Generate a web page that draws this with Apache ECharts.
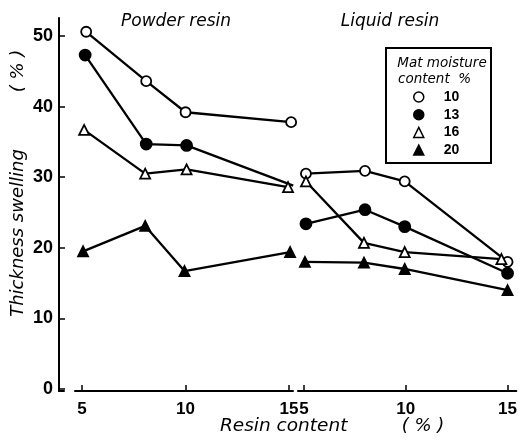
<!DOCTYPE html>
<html>
<head>
<meta charset="utf-8">
<script src="https://cdn.jsdelivr.net/npm/echarts@6/dist/echarts.min.js"></script>
<style>
  html, body { margin: 0; padding: 0; background: #fff; }
  #chart { width: 520px; height: 443px; }
</style>
</head>
<body>
<div id="chart"></div>
<script>
// moisture levels (legend)
var moistures = ["10", "13", "16", "20"];
var tickX = [5, 10, 15];
var tickY = [0, 10, 20, 30, 40, 50];

// powder resin: resin content (%) and thickness swelling (%)
var powderX10 = [5.2, 8.1, 10.0, 15.1];
var powder10 = [50.6, 43.6, 39.2, 37.8];
var powderX13 = [5.15, 8.1, 10.05, 15.2];
var powder13 = [47.3, 34.7, 34.5, 28.8];
var powderX16 = [5.1, 8.05, 10.05, 14.95];
var powder16 = [36.7, 30.5, 31.1, 28.6];
var powderX20 = [5.05, 8.05, 9.95, 15.05];
var powder20 = [19.5, 23.1, 16.7, 19.4];

// liquid resin
var liquidX10 = [5.1, 8.0, 9.95, 15.0];
var liquid10 = [30.5, 30.9, 29.4, 18.0];
var liquidX13 = [5.1, 8.0, 9.95, 15.0];
var liquid13 = [23.4, 25.4, 23.0, 16.4];
var liquidX16 = [5.1, 7.95, 9.95, 14.7];
var liquid16 = [29.4, 20.7, 19.4, 18.4];
var liquidX20 = [5.05, 7.95, 9.95, 15.0];
var liquid20 = [18.0, 17.9, 17.0, 14.0];

function pairs(xs, ys) {
  return xs.map(function (x, i) { return [x, ys[i]]; });
}

var markers = {
  "10": { symbol: "circle", size: 10, color: "#fff" },
  "13": { symbol: "circle", size: 11, color: "#000" },
  "16": { symbol: "triangle", size: 10, color: "#fff" },
  "20": { symbol: "triangle", size: 10, color: "#000" }
};

function makeSeries(name, axisIdx, xs, ys) {
  var m = markers[name];
  return {
    name: name,
    type: "line",
    xAxisIndex: axisIdx,
    yAxisIndex: axisIdx,
    data: pairs(xs, ys),
    symbol: m.symbol,
    symbolSize: m.size,
    showAllSymbol: true,
    itemStyle: { color: m.color, borderColor: "#000", borderWidth: 1.8, opacity: 1 },
    lineStyle: { color: "#000", width: 2.3 },
    emphasis: { disabled: true },
    animation: false
  };
}

var numFont = '"Liberation Sans", sans-serif';
var italicFont = '"DejaVu Sans", sans-serif';
var yMin = -0.28, yMax = 52.55;

var chart = echarts.init(document.getElementById("chart"), null, { renderer: "canvas" });

var option = {
  backgroundColor: "#fff",
  animation: false,
  grid: [
    { left: 59, top: 18, width: 5, height: 373 },
    { left: 75, top: 18, width: 218, height: 373 },
    { left: 298, top: 18, width: 222, height: 373 }
  ],
  xAxis: [
    {
      gridIndex: 0, type: "value", min: 0, max: 1,
      axisLine: { show: true, onZero: false, lineStyle: { color: "#000", width: 2 } },
      axisTick: { show: false }, axisLabel: { show: false }, splitLine: { show: false }
    },
    {
      gridIndex: 1, type: "value", min: 4.66, max: 15.19,
      axisLine: { onZero: false, lineStyle: { color: "#000", width: 2 } },
      axisTick: { inside: true, length: 6, customValues: tickX, lineStyle: { color: "#000", width: 1.5 } },
      axisLabel: { customValues: tickX, margin: 10, color: "#000", fontFamily: numFont, fontWeight: "bold", fontSize: 17 },
      splitLine: { show: false }
    },
    {
      gridIndex: 2, type: "value", min: 4.71, max: 15.43,
      axisLine: { onZero: false, lineStyle: { color: "#000", width: 2 } },
      axisTick: { inside: true, length: 6, customValues: tickX, lineStyle: { color: "#000", width: 1.5 } },
      axisLabel: { customValues: tickX, margin: 10, color: "#000", fontFamily: numFont, fontWeight: "bold", fontSize: 17 },
      splitLine: { show: false }
    }
  ],
  yAxis: [
    {
      gridIndex: 0, type: "value", min: yMin, max: yMax,
      axisLine: { show: true, lineStyle: { color: "#000", width: 2 } },
      axisTick: { inside: true, length: 6, customValues: tickY, lineStyle: { color: "#000", width: 1.5 } },
      axisLabel: { customValues: tickY, margin: 6, color: "#000", fontFamily: numFont, fontWeight: "bold", fontSize: 18 },
      splitLine: { show: false }
    },
    { gridIndex: 1, type: "value", min: yMin, max: yMax, show: false },
    { gridIndex: 2, type: "value", min: yMin, max: yMax, show: false }
  ],
  legend: {
    orient: "vertical",
    left: 413,
    top: 90,
    itemWidth: 10,
    itemHeight: 10,
    itemGap: 3.7,
    padding: 0,
    selectedMode: false,
    z: 10,
    textStyle: { color: "#000", fontFamily: numFont, fontWeight: "bold", fontSize: 14, padding: [0, 0, 0, 15] },
    data: moistures.map(function (name) {
      var m = markers[name];
      return {
        name: name,
        icon: m.symbol,
        itemStyle: { color: m.color, borderColor: "#000", borderWidth: 1.5 }
      };
    })
  },
  graphic: [
    { type: "rect", z: 5, shape: { x: 386, y: 48, width: 105, height: 115 },
      style: { fill: "#fff", stroke: "#000", lineWidth: 2 } },
    { type: "text", z: 6, x: 442, y: 63,
      style: { text: "Mat moisture", font: "italic 13.5px " + italicFont, fill: "#000", align: "center", verticalAlign: "middle", textAlign: "center", textVerticalAlign: "middle" } },
    { type: "text", z: 6, x: 398, y: 79,
      style: { text: "content  %", font: "italic 13.5px " + italicFont, fill: "#000", align: "left", verticalAlign: "middle", textAlign: "left", textVerticalAlign: "middle" } },
    { type: "text", x: 176, y: 22,
      style: { text: "Powder resin", font: "italic 17px " + italicFont, fill: "#000", align: "center", verticalAlign: "middle", textAlign: "center", textVerticalAlign: "middle" } },
    { type: "text", x: 390, y: 22,
      style: { text: "Liquid resin", font: "italic 17px " + italicFont, fill: "#000", align: "center", verticalAlign: "middle", textAlign: "center", textVerticalAlign: "middle" } },
    { type: "text", x: 220, y: 426,
      style: { text: "Resin content", font: "italic 18.5px " + italicFont, fill: "#000", align: "left", verticalAlign: "middle", textAlign: "left", textVerticalAlign: "middle" } },
    { type: "text", x: 423, y: 426,
      style: { text: "( % )", font: "italic 18px " + italicFont, fill: "#000", align: "center", verticalAlign: "middle", textAlign: "center", textVerticalAlign: "middle" } },
    { type: "text", x: 18, y: 233, rotation: Math.PI / 2,
      style: { text: "Thickness swelling", font: "italic 18px " + italicFont, fill: "#000", align: "center", verticalAlign: "middle", textAlign: "center", textVerticalAlign: "middle" } },
    { type: "text", x: 18, y: 71, rotation: Math.PI / 2,
      style: { text: "( % )", font: "italic 18px " + italicFont, fill: "#000", align: "center", verticalAlign: "middle", textAlign: "center", textVerticalAlign: "middle" } }
  ],
  series: [
    makeSeries("10", 1, powderX10, powder10),
    makeSeries("13", 1, powderX13, powder13),
    makeSeries("16", 1, powderX16, powder16),
    makeSeries("20", 1, powderX20, powder20),
    makeSeries("10", 2, liquidX10, liquid10),
    makeSeries("13", 2, liquidX13, liquid13),
    makeSeries("16", 2, liquidX16, liquid16),
    makeSeries("20", 2, liquidX20, liquid20)
  ]
};

chart.setOption(option);
</script>
</body>
</html>
